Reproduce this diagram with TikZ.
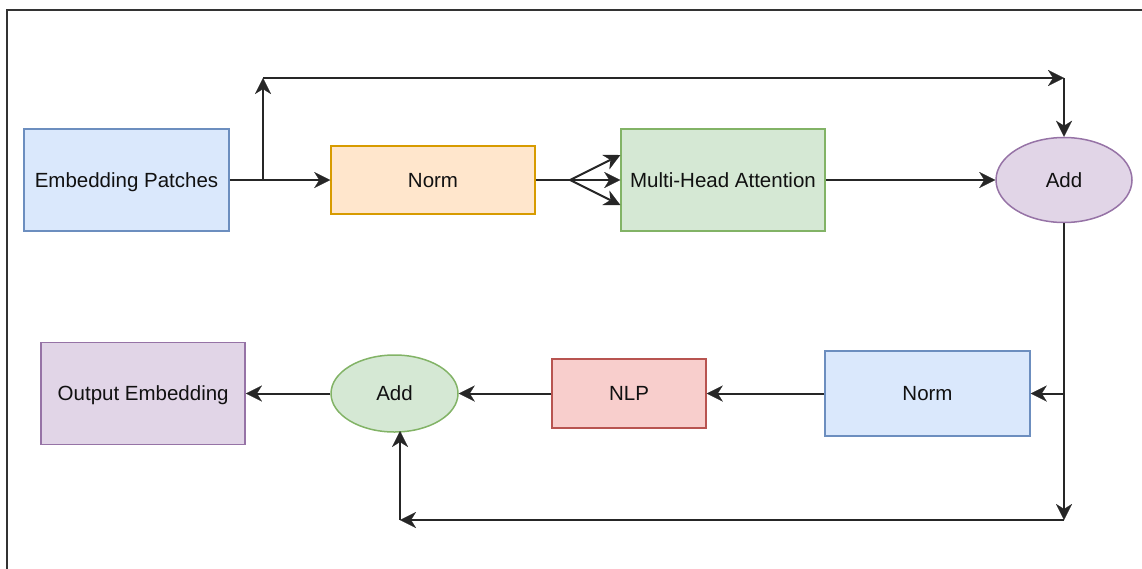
\documentclass[tikz,border=0pt]{standalone}
\usepackage{fontspec}
\setmainfont{Liberation Sans}
\usetikzlibrary{shapes.geometric,arrows.meta,calc}
\definecolor{bluefill}{HTML}{DAE8FC}\definecolor{bluedraw}{HTML}{6C8EBF}
\definecolor{orafill}{HTML}{FFE6CC}\definecolor{oradraw}{HTML}{D79B00}
\definecolor{grefill}{HTML}{D5E8D4}\definecolor{gredraw}{HTML}{82B366}
\definecolor{purfill}{HTML}{E1D5E7}\definecolor{purdraw}{HTML}{9673A6}
\definecolor{redfill}{HTML}{F8CECC}\definecolor{reddraw}{HTML}{B85450}
\definecolor{txt}{HTML}{111111}
\begin{document}
\begin{tikzpicture}[x=1pt,y=-1pt,
  box/.style={draw, line width=1.5pt, inner sep=0pt, text=txt,
    font=\fontsize{20.5}{24}\selectfont, text depth=0pt},
  oval/.style={box, ellipse},
  arr/.style={line width=2pt, draw=black!85, -{Stealth[length=16pt,width=16pt,inset=5pt,line width=0.1pt]}},
  ln/.style={line width=2pt, draw=black!85}]
\useasboundingbox (0,0) rectangle (1142,568);
\draw[line width=2pt, draw=black!80] (7,10) rectangle (1160,590);
% nodes
\node[box, fill=bluefill, draw=bluedraw, minimum width=205, minimum height=102] (ep) at (126.5,180) {Embedding Patches};
\node[box, fill=orafill, draw=oradraw, minimum width=204, minimum height=68] (norm1) at (433,180) {Norm};
\node[box, fill=grefill, draw=gredraw, minimum width=204, minimum height=102] (mha) at (723,180) {Multi-Head Attention};
\node[oval, fill=purfill, draw=purdraw, minimum width=136, minimum height=85] (add1) at (1064,180) {Add};
\node[box, fill=bluefill, draw=bluedraw, minimum width=205, minimum height=85] (norm2) at (927.5,393.5) {Norm};
\node[box, fill=redfill, draw=reddraw, minimum width=154, minimum height=69] (nlp) at (629,393.5) {NLP};
\node[oval, fill=grefill, draw=gredraw, minimum width=127, minimum height=77] (add2) at (394.5,393.5) {Add};
\node[box, fill=purfill, draw=purdraw, minimum width=204, minimum height=102] (out) at (143.2,393.5) {Output Embedding};
% coordinates
\coordinate (s1) at (263,180);
\coordinate (t1) at (263,78);
\coordinate (t2) at (1064,78);
\coordinate (fan) at (570,180);
\coordinate (b1) at (1064,393.5);
\coordinate (b2) at (1064,520);
\coordinate (b3) at (400,520);
\coordinate (b4) at (400,431);
% connectors
\draw[arr] (ep.east) -- (norm1.west);
\draw[arr] (s1) -- (t1);
\draw[arr] (t1) -- (t2);
\draw[arr] (t2) -- (add1.north);
\draw[ln] (norm1.east) -- (fan);
\draw[arr] (fan) -- ([yshift=25pt]mha.west);
\draw[arr] (fan) -- (mha.west);
\draw[arr] (fan) -- ([yshift=-25pt]mha.west);
\draw[arr] (mha.east) -- (add1.west);
\draw[arr] (add1.south) -- (b2);
\draw[arr] (b1) -- (norm2.east);
\draw[arr] (b2) -- (b3);
\draw[arr] (b3) -- (b4);
\draw[arr] (norm2.west) -- (nlp.east);
\draw[arr] (nlp.west) -- (add2.east);
\draw[arr] (add2.west) -- (out.east);
\end{tikzpicture}
\end{document}
